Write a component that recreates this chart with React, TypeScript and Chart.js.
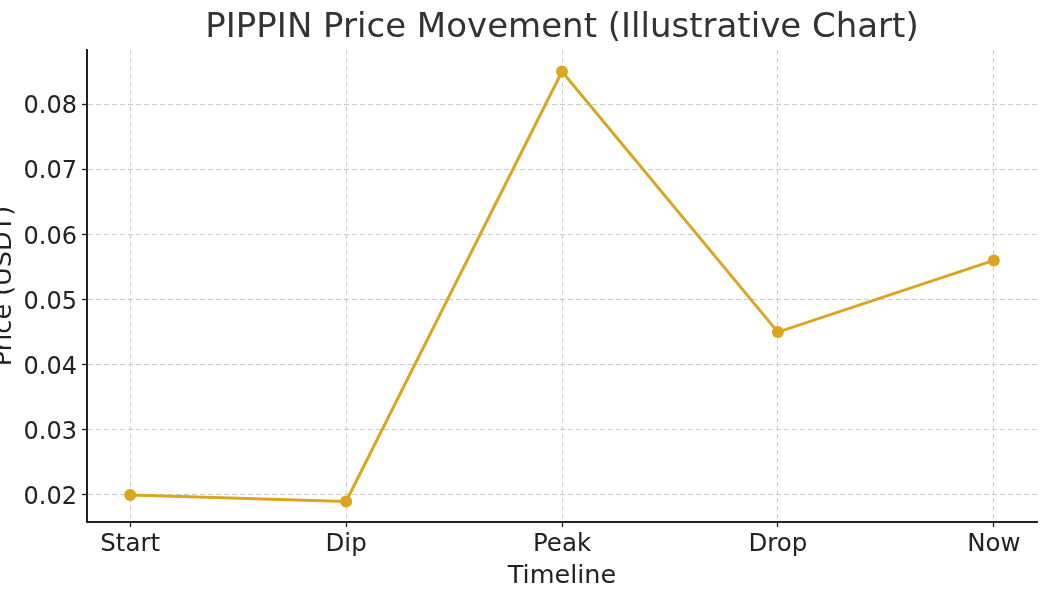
import React, { useEffect, useRef } from "react";
import { Chart, registerables } from "chart.js";

Chart.register(...registerables);

const categories = ["Start", "Dip", "Peak", "Drop", "Now"];
const prices = [0.02, 0.019, 0.085, 0.045, 0.056];
const yTicks = [0.02, 0.03, 0.04, 0.05, 0.06, 0.07, 0.08];
const titleText = "PIPPIN Price Movement (Illustrative Chart)";
const xTitle = "Timeline";
const yTitle = "Price (USDT)";

const FONT = "'DejaVu Sans', sans-serif";

export default function App() {
  const ref = useRef<HTMLCanvasElement | null>(null);

  useEffect(() => {
    document.body.style.margin = "0";
    const canvas = ref.current;
    if (!canvas) return;

    const textPlugin = {
      id: "textPlugin",
      afterDraw(chart: any) {
        const ctx = chart.ctx;
        const area = chart.chartArea;
        ctx.save();
        ctx.fillStyle = "#333333";
        ctx.font = `34px ${FONT}`;
        ctx.textAlign = "center";
        ctx.textBaseline = "alphabetic";
        ctx.fillText(titleText, (area.left + area.right) / 2, 37);

        ctx.fillStyle = "#222222";
        ctx.font = `25.5px ${FONT}`;
        ctx.fillText(xTitle, (area.left + area.right) / 2, 583);

        ctx.translate(11, (area.top + area.bottom) / 2);
        ctx.rotate(-Math.PI / 2);
        ctx.fillText(yTitle, 0, 0);
        ctx.restore();
      },
    };

    const chart = new Chart(canvas, {
      type: "line",
      data: {
        datasets: [
          {
            data: prices.map((p, i) => ({ x: i, y: p })),
            borderColor: "#DAA520",
            backgroundColor: "#DAA520",
            borderWidth: 3,
            pointRadius: 6,
            pointHoverRadius: 6,
            pointBorderWidth: 0,
            tension: 0,
          },
        ],
      },
      options: {
        animation: false,
        responsive: false,
        maintainAspectRatio: false,
        events: [],
        layout: { padding: { left: 0, top: 50, right: 16, bottom: 0 } },
        plugins: {
          legend: { display: false },
          title: { display: false },
          tooltip: { enabled: false },
        },
        scales: {
          x: {
            type: "linear",
            min: -0.2,
            max: 4.2,
            afterBuildTicks: (scale: any) => {
              scale.ticks = categories.map((_, i) => ({ value: i }));
            },
            afterFit: (scale: any) => {
              scale.height = 79;
            },
            ticks: {
              callback: (v: any) => categories[Math.round(Number(v))] ?? "",
              color: "#222222",
              font: { family: FONT, size: 24.5 },
              padding: 3,
              maxRotation: 0,
              autoSkip: false,
            },
            grid: {
              color: "#cccccc",
              lineWidth: 1,
              tickColor: "#222222",
              tickLength: 5,
              tickWidth: 1.3,
            },
            border: { display: true, color: "#222222", width: 2, dash: [5, 3] },
          },
          y: {
            type: "linear",
            min: 0.01585,
            max: 0.0883,
            afterBuildTicks: (scale: any) => {
              scale.ticks = yTicks.map((v) => ({ value: v }));
            },
            afterFit: (scale: any) => {
              scale.width = 87;
            },
            ticks: {
              callback: (v: any) => Number(v).toFixed(2),
              color: "#222222",
              font: { family: FONT, size: 24 },
              padding: 5,
              labelOffset: 3,
            },
            grid: {
              color: "#cccccc",
              lineWidth: 1,
              tickColor: "#222222",
              tickLength: 5,
              tickWidth: 1.3,
            },
            border: { display: true, color: "#222222", width: 2, dash: [5, 3] },
          },
        },
      },
      plugins: [textPlugin],
    });

    return () => chart.destroy();
  }, []);

  return (
    <div style={{ position: "absolute", left: 0, top: 0, width: 1053, height: 601, background: "#ffffff" }}>
      <canvas ref={ref} width={1053} height={601} style={{ display: "block" }} />
    </div>
  );
}
